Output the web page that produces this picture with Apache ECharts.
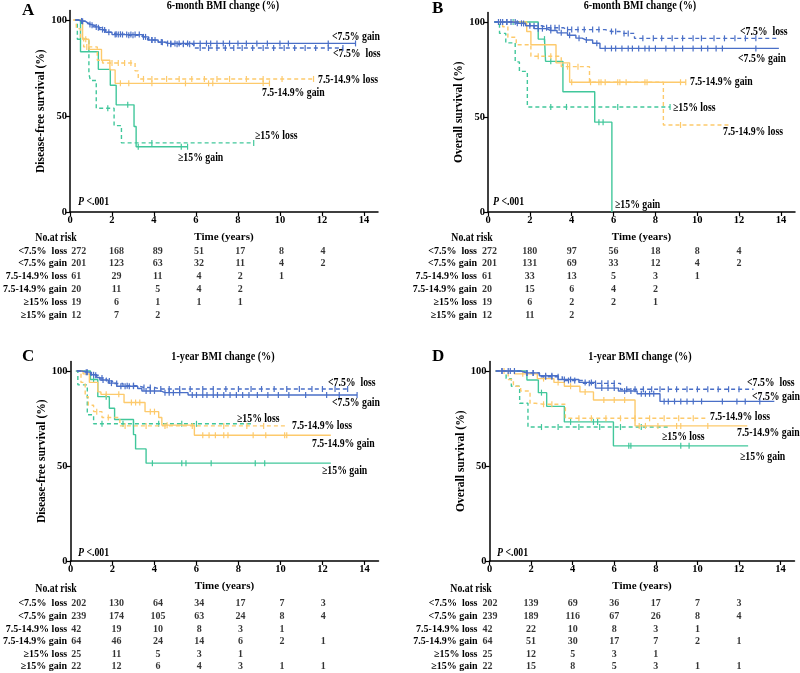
<!DOCTYPE html>
<html><head><meta charset="utf-8">
<script src="https://cdn.jsdelivr.net/npm/echarts@6/dist/echarts.min.js"></script>
<style>html,body{margin:0;padding:0;background:#fff}#c{width:800px;height:673px}</style>
</head><body><div id="c"></div>
<script>
// ---------- data ----------
const groups = ['<7.5%  loss', '<7.5% gain', '7.5-14.9% loss', '7.5-14.9% gain', '≥15% loss', '≥15% gain'];
const riskTimes = [0, 2, 4, 6, 8, 10, 12];
const xTicks = [0, 2, 4, 6, 8, 10, 12, 14];
const yTicks = [0, 50, 100];

const riskA = [[272,168,89,51,17,8,4],[201,123,63,32,11,4,2],[61,29,11,4,2,1],[20,11,5,4,2],[19,6,1,1,1],[12,7,2]];
const riskB = [[272,180,97,56,18,8,4],[201,131,69,33,12,4,2],[61,33,13,5,3,1],[20,15,6,4,2],[19,6,2,2,1],[12,11,2]];
const riskC = [[202,130,64,34,17,7,3],[239,174,105,63,24,8,4],[42,19,10,8,3,1],[64,46,24,14,6,2,1],[25,11,5,3,1],[22,12,6,4,3,1,1]];
const riskD = [[202,139,69,36,17,7,3],[239,189,116,67,26,8,4],[42,22,10,8,3,1],[64,51,30,17,7,2,1],[25,12,5,3,1],[22,15,8,5,3,1,1]];

// curves: [time (years), survival (%), censored flag]
const A_lt_loss = [[0.25,100],[0.45,99.3],[0.6,99.3,1],[0.75,98.2],[0.9,97.3],[1.05,97.3,1],[1.2,96],[1.35,96,1],[1.5,94.8],[1.65,94.8,1],[1.8,93.6],[2.0,92.6],[2.2,92.6,1],[2.4,92.6,1],[2.6,92],[2.8,92,1],[3.0,92,1],[3.3,91.2],[3.5,91.2,1],[3.7,89.6],[3.9,89.6,1],[4.2,88.4],[4.4,88.4,1],[4.6,87.4],[4.8,87.4,1],[5.1,87.4,1],[5.4,87.4,1],[5.7,87.4,1],[5.9,85.4],[6.2,85.4,1],[6.6,85.4,1],[7.0,85.4,1],[7.4,85.4,1],[7.8,85.4,1],[8.2,85.4,1],[8.7,85.4,1],[9.2,85.4,1],[9.7,85.4,1],[10.2,85.4,1],[10.7,85.4,1],[11.2,85.4,1],[11.7,85.4,1],[12.3,85.4,1],[13.0,85.4,1]];
const A_lt_gain = [[0.25,100],[0.4,99.5],[0.55,99.5,1],[0.7,98.5],[0.85,97.6],[0.95,97.6,1],[1.1,96.4],[1.25,96.4,1],[1.4,95],[1.55,95,1],[1.7,93.6],[1.85,93.6,1],[2.0,92.4],[2.15,92.4,1],[2.3,92.4,1],[2.5,92.4,1],[2.7,92.4,1],[2.9,92.4,1],[3.1,92.4,1],[3.3,92.4,1],[3.45,91.2],[3.6,91.2,1],[3.75,89.6],[3.9,89.6,1],[4.05,89.6,1],[4.2,88.5],[4.35,88.5,1],[4.5,87.8],[4.65,87.8,1],[4.8,87.8,1],[5.0,87.8,1],[5.2,87.8,1],[5.4,87.8,1],[5.6,87.8,1],[5.9,87.8,1],[6.2,87.8,1],[6.5,87.8,1],[6.7,87.8,1],[7.0,87.8,1],[7.3,87.8,1],[7.6,87.8,1],[8.0,87.8,1],[8.4,87.8,1],[8.9,87.8,1],[9.4,87.8,1],[10.0,87.8,1],[10.4,87.8,1],[12.3,87.8,1],[13.6,87.8,1]];
const A_mid_loss = [[0.15,100],[0.3,95.5],[0.5,91],[0.65,86],[0.8,86,1],[1.3,79],[1.55,77.6],[2.0,77.6,1],[2.3,77.6,1],[2.6,77.6,1],[2.9,77.6,1],[3.1,73.5],[3.25,69.3],[3.5,69.3,1],[3.9,69.3,1],[4.6,69.3,1],[5.2,69.3,1],[5.8,69.3,1],[6.4,69.3,1],[7.0,69.3,1],[7.6,69.3,1],[8.4,69.3,1],[9.2,69.3,1],[10.1,69.3,1],[11.6,69.3,1]];
const A_mid_gain = [[0.2,100],[0.6,90],[0.75,90,1],[0.9,84.7],[1.5,79],[1.9,74],[2.15,67],[2.4,67,1],[2.8,67,1],[3.9,67,1],[5.5,67,1],[6.6,67,1],[6.8,67,1],[9.2,67,1],[9.5,67,1]];
const A_hi_loss = [[0.2,100],[0.35,90],[0.9,72],[0.97,68.5],[1.25,54],[1.8,54,1],[2.1,45],[2.45,36],[3.9,36,1],[8.75,36,1]];
const A_hi_gain = [[0.25,100],[0.5,83.5],[1.35,74.3],[1.92,66],[2.2,55.8],[2.75,55.8,1],[3.05,44.5],[3.15,34],[3.25,34,1],[5.3,34,1],[5.6,34,1]];

const B_lt_loss = [[0.3,100],[0.5,100,1],[0.7,100,1],[0.9,100,1],[1.1,100,1],[1.3,100,1],[1.5,99.2],[1.7,99.2,1],[2.0,98],[2.2,98,1],[2.4,98,1],[2.6,97],[2.8,97,1],[3.0,97,1],[3.2,97,1],[3.4,97,1],[3.6,96],[3.8,96,1],[4.0,96,1],[4.3,96,1],[4.6,96,1],[5.0,96,1],[5.3,96,1],[5.6,95],[5.9,95,1],[6.1,95,1],[6.3,94],[6.5,94,1],[6.7,94,1],[7.0,91.4],[7.4,91.4,1],[7.9,91.4,1],[8.3,91.4,1],[8.8,91.4,1],[9.3,91.4,1],[9.8,91.4,1],[10.2,91.4,1],[10.8,91.4,1],[11.3,91.4,1],[11.8,91.4,1],[12.3,91.4,1],[12.8,91.4,1],[13.8,91.4]];
const B_lt_gain = [[0.3,100],[0.6,100,1],[0.9,100,1],[1.2,99.3],[1.4,99.3,1],[1.6,99.3,1],[1.8,98],[2.0,98,1],[2.2,96.5],[2.4,96.5,1],[2.6,96.5,1],[2.8,95.5],[3.0,95.5,1],[3.3,94.3],[3.5,94.3,1],[3.8,93],[3.9,93,1],[4.2,91.5],[4.35,91.5,1],[4.5,90.5],[4.7,90.5,1],[5.0,88.8],[5.2,88.8,1],[5.35,86.1],[5.6,86.1,1],[5.9,86.1,1],[6.1,86.1,1],[6.4,86.1,1],[6.7,86.1,1],[6.9,86.1,1],[7.2,86.1,1],[7.5,86.1,1],[7.7,86.1,1],[8.0,86.1,1],[8.5,86.1,1],[8.9,86.1,1],[9.3,86.1,1],[9.8,86.1,1],[10.2,86.1,1],[10.5,86.1,1],[10.9,86.1,1],[11.2,86.1,1],[12.8,86.1,1],[13.9,86.1]];
const B_mid_loss = [[0.5,100],[0.7,97.5],[0.95,92],[1.35,88],[2.05,82],[2.4,82,1],[3.0,82,1],[3.5,76.5],[3.8,76.5,1],[4.3,76.5,1],[4.85,68.3],[5.3,68.3,1],[6.2,68.3,1],[7.5,68.3,1],[8.38,45.8],[9.2,45.8,1],[11.5,45.8]];
const B_mid_gain = [[0.6,100],[1.85,95],[2.05,88],[3.25,78.5],[3.9,68.3],[4.0,68.3,1],[4.9,68.3,1],[5.4,68.3,1],[5.6,68.3,1],[6.3,68.3,1],[6.6,68.3,1],[7.6,68.3,1],[9.2,68.3,1],[9.45,68.3,1]];
const B_hi_loss = [[0.3,100],[0.55,94],[0.85,89],[1.3,79],[1.5,74],[1.88,55.3],[3.0,55.3,1],[3.75,55.3,1],[6.2,55.3,1],[8.7,55.3,1]];
const B_hi_gain = [[0.6,100],[1.2,100,1],[2.4,91],[2.7,91,1],[2.75,79.3],[3.0,79.3,1],[3.58,63.3],[5.1,47.3],[5.3,47.3,1],[5.5,47.3,1],[5.92,0]];

const C_lt_loss = [[0.3,100],[0.6,99.3],[0.8,99.3,1],[1.0,97.8],[1.2,97.8,1],[1.35,96.3],[1.5,96.3,1],[1.7,94.8],[1.85,94.8,1],[2.0,93.4],[2.2,93.4,1],[2.5,92.3],[2.7,92.3,1],[3.0,92.3,1],[3.2,91.3],[3.5,91.3,1],[3.8,91.3,1],[4.0,90.5],[4.3,90.5,1],[4.7,90.5,1],[5.2,90.5,1],[5.7,90.5,1],[6.3,90.5,1],[6.8,90.5,1],[7.4,90.5,1],[8.0,90.5,1],[8.6,90.5,1],[9.1,90.5,1],[9.7,90.5,1],[10.3,90.5,1],[10.9,90.5,1],[11.5,90.5,1],[12.0,90.5,1],[12.6,90.5,1],[13.2,90.5,1]];
const C_lt_gain = [[0.3,100],[0.55,99.4],[0.75,99.4,1],[0.95,98],[1.1,98,1],[1.25,96.6],[1.4,95.3],[1.55,95.3,1],[1.8,93.6],[1.95,93.6,1],[2.2,92],[2.4,92,1],[2.6,92,1],[2.8,92,1],[3.0,92,1],[3.2,90.8],[3.4,89.5],[3.6,89.5,1],[3.8,89.5,1],[4.0,89.5,1],[4.3,88.6],[4.5,88.6,1],[4.7,88.6,1],[4.9,88.6,1],[5.2,88.6,1],[5.6,87.4],[5.8,87.4,1],[6.0,87.4,1],[6.3,87.4,1],[6.5,87.4,1],[6.8,87.4,1],[7.0,87.4,1],[7.3,87.4,1],[7.6,87.4,1],[7.9,87.4,1],[8.2,87.4,1],[8.5,87.4,1],[8.9,87.4,1],[9.4,87.4,1],[9.9,87.4,1],[10.4,87.4,1],[11.2,87.4,1],[12.2,87.4,1],[12.8,87.4,1],[13.65,87.4,1]];
const C_mid_loss = [[0.3,100],[0.5,94],[0.7,86.5],[0.85,82],[1.1,78.6],[1.25,78.6,1],[1.5,75.5],[1.8,75.5,1],[2.35,71.1],[2.6,71.1,1],[3.6,71.1,1],[4.5,71.1,1],[5.8,71.1,1],[7.3,71.1,1],[8.4,71.1,1],[9.2,71.1,1],[10.3,71.1]];
const C_mid_gain = [[0.3,100],[0.6,98.5],[0.9,94],[1.3,89],[1.45,87.7],[1.7,87.7,1],[2.3,87.7,1],[2.55,83.4],[2.9,83.4,1],[3.1,83.4,1],[3.3,83.4,1],[3.55,78.6],[3.8,78.6,1],[4.0,78.6,1],[4.2,75.5],[4.35,71.5],[4.6,71.5,1],[5.9,66.2],[6.3,66.2,1],[6.6,66.2,1],[6.9,66.2,1],[7.3,66.2,1],[7.5,66.2,1],[8.7,66.2,1],[9.3,66.2,1],[10.2,66.2,1],[10.3,66.2,1],[12.4,66.2]];
const C_hi_loss = [[0.25,100],[0.35,92.7],[0.8,77],[1.1,72.2],[1.5,72.2,1],[2.5,72.2,1],[3.0,72.2,1],[4.2,72.2,1],[5.3,72.2,1],[6.0,72.2,1],[8.7,72.2]];
const C_hi_gain = [[0.3,100],[0.95,95.5],[1.1,95.5,1],[1.3,86.5],[1.7,86.5,1],[1.85,80.4],[2.1,74.5],[3.0,66.5],[3.1,59],[3.6,51.5],[3.9,51.5,1],[5.3,51.5,1],[5.5,51.5,1],[6.7,51.5,1],[8.8,51.5,1],[9.25,51.5,1],[12.4,51.5]];

const D_lt_loss = [[0.3,100],[0.6,100,1],[0.9,100,1],[1.2,100,1],[1.5,99],[1.8,99,1],[2.1,99,1],[2.4,97],[2.7,97,1],[3.0,97,1],[3.3,97,1],[3.5,95],[3.8,95,1],[4.1,95,1],[4.5,93.5],[4.8,93.5,1],[5.1,93.5,1],[5.4,93.5,1],[5.7,93.5,1],[6.0,93.5,1],[6.3,90.4],[6.6,90.4,1],[7.0,90.4,1],[7.4,90.4,1],[7.8,90.4,1],[8.2,90.4,1],[8.6,90.4,1],[9.0,90.4,1],[9.5,90.4,1],[10.0,90.4,1],[10.5,90.4,1],[11.0,90.4,1],[11.5,90.4,1],[12.0,90.4,1],[12.7,90.4]];
const D_lt_gain = [[0.3,100],[0.6,100,1],[1.0,100,1],[1.5,99],[1.8,99,1],[2.1,99,1],[2.4,97.5],[2.7,97.5,1],[3.0,97.5,1],[3.3,95.5],[3.6,95.5,1],[3.9,95.5,1],[4.3,94],[4.6,94,1],[4.9,94,1],[5.1,91],[5.4,91,1],[5.7,91,1],[6.0,91,1],[6.2,89.5],[6.5,89.5,1],[6.8,89.5,1],[7.1,88],[7.3,88,1],[7.5,88,1],[7.7,88,1],[7.9,88,1],[8.2,84],[8.4,84,1],[8.6,84,1],[8.9,84,1],[9.2,84,1],[9.5,84,1],[9.8,84,1],[10.2,84,1],[11.2,84,1],[11.9,84,1],[12.3,84,1],[13.0,84,1],[13.7,84]];
const D_mid_loss = [[0.3,100],[0.9,95.5],[1.15,92],[1.5,89.5],[1.95,83],[2.2,82.5],[2.6,82.5,1],[3.0,82.5,1],[3.65,75.1],[4.3,75.1,1],[4.9,75.1,1],[5.6,75.1,1],[6.3,75.1,1],[7.0,75.1,1],[7.7,75.1,1],[8.4,75.1,1],[9.1,75.1,1],[9.8,75.1,1],[10.4,75.1]];
const D_mid_gain = [[0.3,100],[0.7,100,1],[1.2,98.5],[1.6,98.5,1],[2.3,96],[2.6,96,1],[3.1,94],[3.3,94,1],[3.6,92],[3.9,92,1],[4.35,89],[4.6,89,1],[5.0,84.7],[5.5,84.7,1],[6.0,84.7,1],[6.5,84.7,1],[7.0,71.1],[7.2,71.1,1],[7.5,71.1,1],[8.1,71.1,1],[9.0,71.1,1],[9.2,71.1,1],[10.5,71.1,1],[12.4,71.1]];
const D_hi_loss = [[0.3,100],[0.8,96],[1.05,92],[1.45,83],[1.85,70.5],[2.5,70.5,1],[3.3,70.5,1],[4.3,70.5,1],[5.3,70.5,1],[6.3,70.5,1],[7.3,70.5,1],[8.7,70.5]];
const D_hi_gain = [[0.3,100],[1.8,95.3],[2.35,88.6],[2.5,88.6,1],[2.75,81.4],[3.6,73.2],[3.9,73.2,1],[5.0,73.2,1],[5.2,73.2,1],[5.96,60.6],[6.7,60.6,1],[6.8,60.6,1],[9.2,60.6,1],[9.6,60.6,1],[12.44,60.6]];

// ---------- styling / layout ----------
const FONT = '"Liberation Serif", "Times New Roman", serif';
const BLUE = '#4a6fc7', YELLOW = '#fdca6c', GREEN = '#41c79b';
const XMAX = 14.67;
const panels = [
  {curves:[A_lt_loss,A_lt_gain,A_mid_loss,A_mid_gain,A_hi_loss,A_hi_gain], risk:riskA, plot:{left:70,top:10.4,width:308,height:201.6}, table:{left:70,top:244.6,width:308,height:77}, yname:'Disease-free survival (%)', margin:8, off0:-4},
  {curves:[B_lt_loss,B_lt_gain,B_mid_loss,B_mid_gain,B_hi_loss,B_hi_gain], risk:riskB, plot:{left:488,top:12.5,width:307,height:199.5}, table:{left:488,top:244.6,width:307,height:77}, yname:'Overall survival (%)', margin:11, off0:-6},
  {curves:[C_lt_loss,C_lt_gain,C_mid_loss,C_mid_gain,C_hi_loss,C_hi_gain], risk:riskC, plot:{left:70.5,top:361.5,width:308,height:199.5}, table:{left:70.5,top:597.6,width:308,height:77}, yname:'Disease-free survival (%)', margin:8, off0:-4},
  {curves:[D_lt_loss,D_lt_gain,D_mid_loss,D_mid_gain,D_hi_loss,D_hi_gain], risk:riskD, plot:{left:489.5,top:361.5,width:305,height:199.5}, table:{left:489.5,top:597.6,width:305,height:77}, yname:'Overall survival (%)', margin:12, off0:-7}
];
const curveColors = [BLUE, BLUE, YELLOW, YELLOW, GREEN, GREEN];
const curveDashed = [true, false, true, false, true, false];

const grid = [], xAxis = [], yAxis = [], series = [];
const txt = {fontFamily: FONT, fontWeight: 'bold', fontSize: 10, color: '#000'};
panels.forEach((p, i) => {
  grid.push(Object.assign({containLabel:false}, p.plot));
  xAxis.push({type:'value', gridIndex:i, min:0, max:XMAX,
    axisLine:{show:true, onZero:false, lineStyle:{color:'#000', width:1.5}},
    axisTick:{show:true, length:4, customValues:xTicks, lineStyle:{color:'#000', width:1.2}},
    axisLabel:Object.assign({customValues:xTicks, margin:3}, txt, {fontSize:10.5}),
    splitLine:{show:false},
    name:'Time (years)', nameLocation:'middle', nameGap:20, nameTextStyle:Object.assign({}, txt, {fontSize:11})});
  yAxis.push({type:'value', gridIndex:i, min:0, max:105,
    axisLine:{show:true, onZero:false, lineStyle:{color:'#000', width:1.5}},
    axisTick:{show:true, length:4, customValues:yTicks, lineStyle:{color:'#000', width:1.2}},
    axisLabel:Object.assign({customValues:yTicks, margin:3}, txt, {fontSize:10.5}),
    splitLine:{show:false},
    name:p.yname, nameLocation:'middle', nameGap:21, nameTextStyle:Object.assign({}, txt, {fontSize:11.5})});
  p.curves.forEach((d, k) => {
    series.push({type:'line', xAxisIndex:i, yAxisIndex:i, data:d, step:'end', animation:false, silent:true,
      symbol:'rect', showSymbol:true, symbolSize:v => (v[2] ? [1.2, 6] : 0),
      itemStyle:{color:curveColors[k]},
      lineStyle:{color:curveColors[k], width:1.4, type: curveDashed[k] ? [4, 3] : 'solid'},
      z: 10 - k});
  });
});
panels.forEach((p, i) => {
  const gi = 4 + i;
  grid.push(Object.assign({containLabel:false}, p.table));
  xAxis.push({type:'value', gridIndex:gi, min:0, max:XMAX, show:false});
  yAxis.push({type:'category', gridIndex:gi, inverse:true, data:groups,
    axisLine:{show:false}, axisTick:{show:false}, splitLine:{show:false},
    axisLabel:Object.assign({margin:p.margin, interval:0}, txt)});
  const d0 = [], dn = [];
  p.risk.forEach((row, r) => row.forEach((v, j) => { (j === 0 ? d0 : dn).push([riskTimes[j], r, v]); }));
  series.push({type:'scatter', xAxisIndex:gi, yAxisIndex:gi, data:d0, symbolSize:1, itemStyle:{color:'rgba(0,0,0,0)'}, animation:false, silent:true,
    label:Object.assign({show:true, position:'inside', align:'left', offset:[p.off0, 0], formatter:q => String(q.value[2])}, txt)});
  series.push({type:'scatter', xAxisIndex:gi, yAxisIndex:gi, data:dn, symbolSize:1, itemStyle:{color:'rgba(0,0,0,0)'}, animation:false, silent:true,
    label:Object.assign({show:true, position:'inside', align:'center', formatter:q => String(q.value[2])}, txt)});
});

// annotation text, slightly condensed like the original figure
function T(x, y, text, extra, sx) {
  return {type:'text', silent:true, x:x, y:y, scaleX: sx == null ? 0.85 : sx,
    style:Object.assign({x:0, y:0, text:text, fill:'#000', font:'bold 11.5px ' + FONT, align:'left', verticalAlign:'middle'}, extra || {})};
}
const LET = {font:'bold 17px ' + FONT};
const TIT = {align:'center', font:'bold 12px ' + FONT};
const PV = {rich:{i:{fontStyle:'italic', fontWeight:'bold', fontSize:11.5, fontFamily:FONT}}};
const graphic = [
  T(22, 11, 'A', LET, 1), T(432, 9, 'B', LET, 1), T(22, 357, 'C', LET, 1), T(432, 357, 'D', LET, 1),
  T(223, 6, '6-month BMI change (%)', TIT), T(640, 6, '6-month BMI change (%)', TIT),
  T(223, 357, '1-year BMI change (%)', TIT), T(640, 357, '1-year BMI change (%)', TIT),
  T(56, 238, 'No.at risk', {align:'center'}), T(472, 238, 'No.at risk', {align:'center'}),
  T(56, 589, 'No.at risk', {align:'center'}), T(471, 589, 'No.at risk', {align:'center'}),
  T(78, 202, '{i|P} <.001', PV), T(493, 202, '{i|P} <.001', PV),
  T(78, 553, '{i|P} <.001', PV), T(497, 553, '{i|P} <.001', PV),
  // curve labels A
  T(332, 37, '<7.5% gain'), T(333, 54, '<7.5%  loss'), T(318, 80, '7.5-14.9% loss'),
  T(262, 93, '7.5-14.9% gain'), T(255, 136, '≥15% loss'), T(178, 158, '≥15% gain'),
  // B
  T(740, 32, '<7.5%  loss'), T(738, 59, '<7.5% gain'), T(690, 82, '7.5-14.9% gain'),
  T(673, 108, '≥15% loss'), T(723, 132, '7.5-14.9% loss'), T(615, 205, '≥15% gain'),
  // C
  T(328, 383, '<7.5%  loss'), T(332, 403, '<7.5% gain'), T(237, 419, '≥15% loss'),
  T(292, 426, '7.5-14.9% loss'), T(312, 444, '7.5-14.9% gain'), T(322, 471, '≥15% gain'),
  // D
  T(747, 383, '<7.5%  loss'), T(752, 397, '<7.5% gain'), T(710, 417, '7.5-14.9% loss'),
  T(737, 433, '7.5-14.9% gain'), T(662, 437, '≥15% loss'), T(740, 457, '≥15% gain')
];

const chart = echarts.init(document.getElementById('c'), null, {renderer:'canvas'});
chart.setOption({backgroundColor:'#fff', animation:false, grid, xAxis, yAxis, series, graphic});
</script>
</body></html>
